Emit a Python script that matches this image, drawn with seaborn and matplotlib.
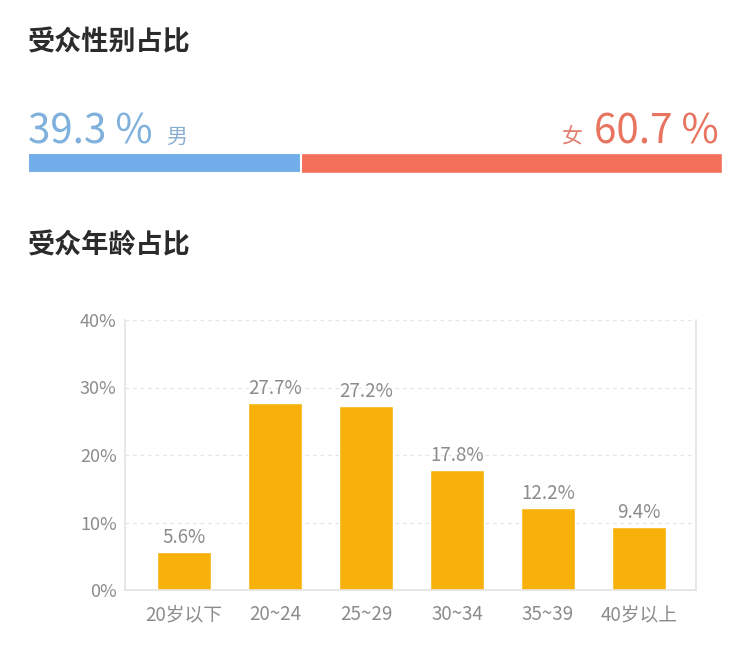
import matplotlib
matplotlib.use("Agg")
import matplotlib.pyplot as plt
import seaborn as sns
import pandas as pd

# Data
gender_labels = ["男", "女"]
gender_values = [39.3, 60.7]
age_groups = ["20岁以下", "20~24", "25~29", "30~34", "35~39", "40岁以上"]
age_values = [5.6, 27.7, 27.2, 17.8, 12.2, 9.4]
y_ticks = [0, 10, 20, 30, 40]

sns.set_theme(style="white")
plt.rcParams['font.family'] = ['Noto Sans CJK SC', 'DejaVu Sans']

W, H = 752, 657
fig = plt.figure(figsize=(W / 100, H / 100), dpi=100)
fig.patch.set_facecolor("white")

def fx(x):
    return x / W

def fy(y):
    return 1 - y / H

# Titles
fig.text(fx(28), fy(42), "受众性别占比", fontsize=19.5, fontweight="bold", color="#2b2b2b", va="center", ha="left")
fig.text(fx(28), fy(245), "受众年龄占比", fontsize=19.5, fontweight="bold", color="#2b2b2b", va="center", ha="left")

# Gender labels
blue_txt = "#7fb1dc"
red_txt = "#e8735f"
fig.text(fx(28), fy(143), f"{gender_values[0]} %", fontsize=29, color=blue_txt, va="baseline", ha="left")
fig.text(fx(166), fy(143), gender_labels[0], fontsize=15, color="#8aaed0", va="baseline", ha="left")
fig.text(fx(719), fy(143), f"{gender_values[1]} %", fontsize=29, color=red_txt, va="baseline", ha="right")
fig.text(fx(582), fy(143), gender_labels[1], fontsize=15, color="#e08070", va="baseline", ha="right")

# Gender bar
axg = fig.add_axes([fx(28), fy(173), fx(722) - fx(28), (173 - 153) / H])
gdf = pd.DataFrame({"g": ["all"], "male": [gender_values[0]], "total": [gender_values[0] + gender_values[1]]})
sns.barplot(data=gdf, x="total", y="g", color="#f46f5a", ax=axg, width=1.0, saturation=1, orient="h")
sns.barplot(data=gdf, x="male", y="g", color="#72aeea", ax=axg, width=1.0, saturation=1, orient="h")
for i, p in enumerate(axg.patches):
    if i == 1:
        p.set_edgecolor("white")
        p.set_linewidth(1.5)
axg.set_xlim(0, 100)
axg.set_ylim(0.5, -0.5)
axg.axis("off")

# Age chart
ax = fig.add_axes([fx(125), fy(590), fx(696) - fx(125), (590 - 320) / H])
df = pd.DataFrame({"age": age_groups, "pct": age_values})
sns.barplot(data=df, x="age", y="pct", color="#f8b10b", saturation=1, width=0.593, ax=ax)
ax.set_ylim(0, 40)
ax.set_xlim(-0.648, len(age_groups) - 1 + 0.626)
ax.set_yticks(y_ticks)
ax.set_yticklabels([f"{v}%" for v in y_ticks])
ax.set_xlabel("")
ax.set_ylabel("")
for v in y_ticks[1:]:
    ax.axhline(v, color="#e6e6e6", linestyle=(0, (3, 3)), linewidth=0.9, zorder=0)
for s in ["left", "bottom", "right"]:
    ax.spines[s].set_color("#e3e3e3")
    ax.spines[s].set_linewidth(1.2)
ax.spines["top"].set_visible(False)
ax.tick_params(axis="y", colors="#999999", labelsize=13, length=0, pad=6)
ax.tick_params(axis="x", colors="#999999", labelsize=13.5, length=0, pad=10)
for lab in ax.get_xticklabels() + ax.get_yticklabels():
    lab.set_color("#8c8c8c")
for i, v in enumerate(age_values):
    ax.text(i, v + 0.6, f"{v}%", ha="center", va="bottom", fontsize=13.5, color="#8c8c8c")

fig.savefig("out.png", dpi=100, facecolor="white")
